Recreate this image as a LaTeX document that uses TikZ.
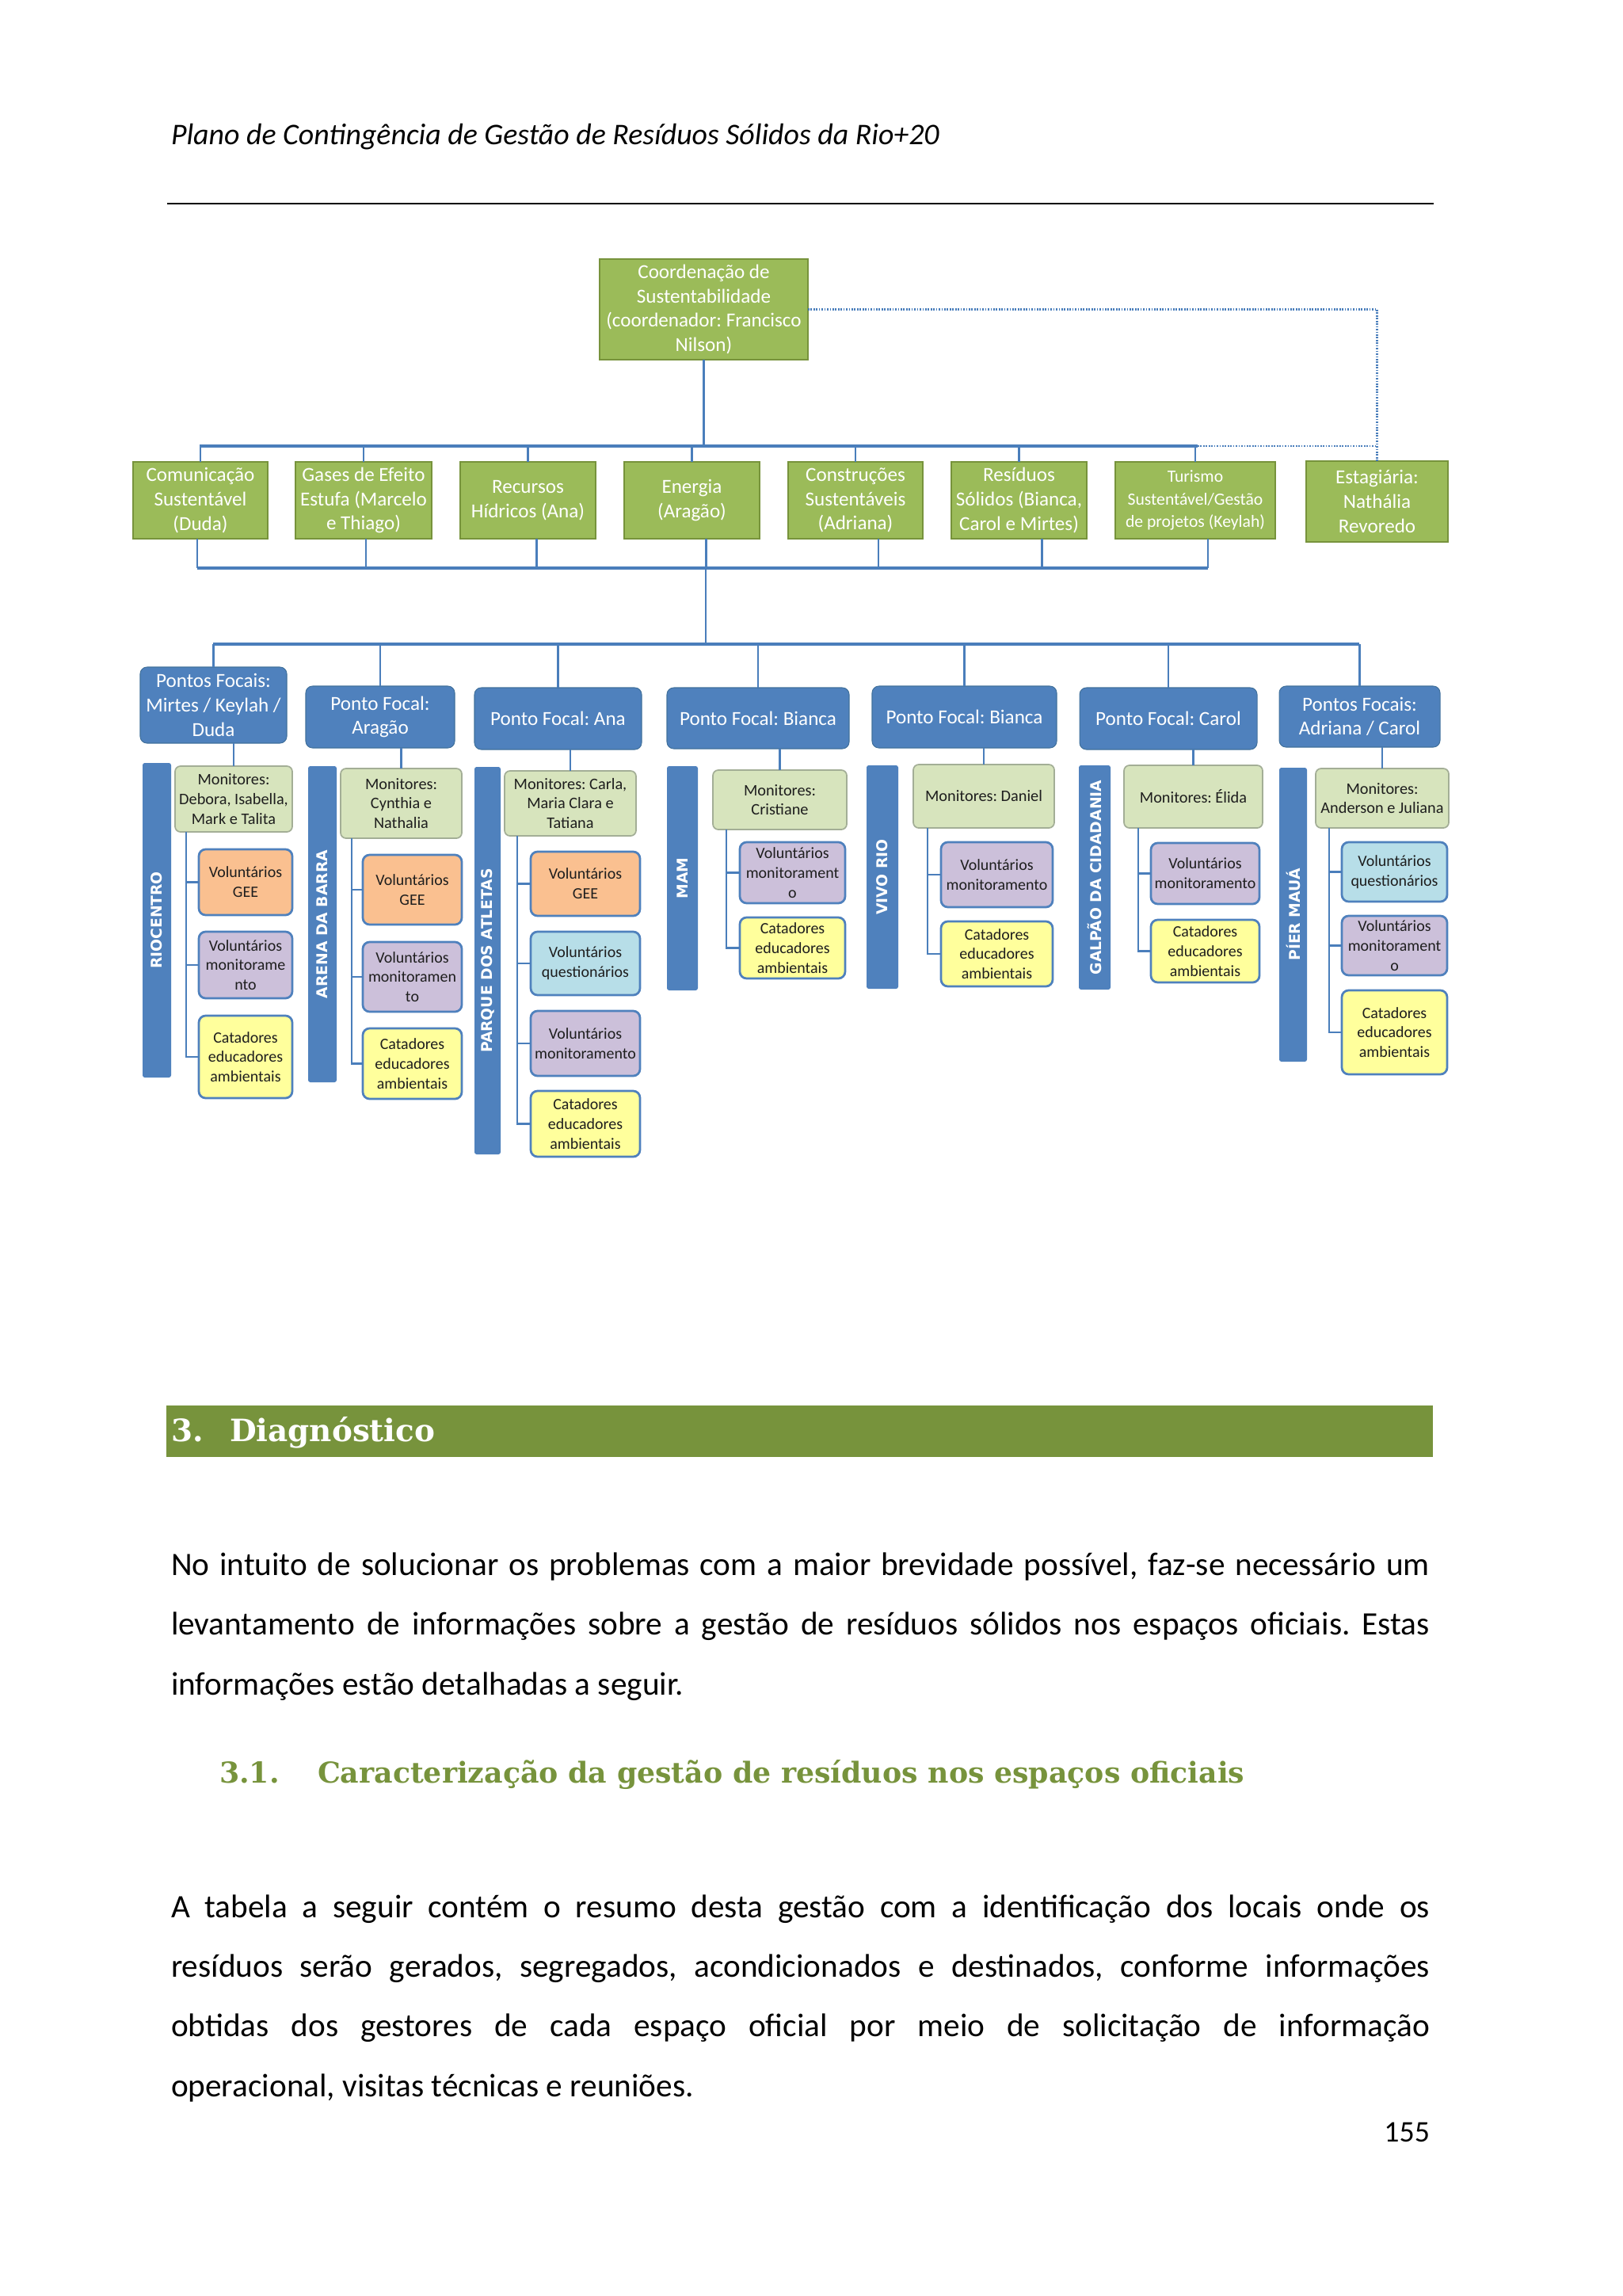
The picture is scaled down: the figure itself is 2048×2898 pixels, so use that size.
\documentclass[tikz,border=0pt]{standalone}
\usepackage{fontspec}
\newfontfamily\calib{Carlito}
\newfontfamily\barfont{DejaVu Sans}
\newfontfamily\headfont{DejaVu Serif}
\usetikzlibrary{calc}
\frenchspacing
\definecolor{ggreen}{HTML}{9BBB59}
\definecolor{gborder}{HTML}{77933C}
\definecolor{pblue}{HTML}{4F81BD}
\definecolor{pbluedark}{HTML}{41719C}
\definecolor{mgreen}{HTML}{D7E4BD}
\definecolor{mborder}{HTML}{A3AE96}
\definecolor{geefill}{HTML}{FAC090}
\definecolor{monfill}{HTML}{CCC0DA}
\definecolor{quefill}{HTML}{B7DEE8}
\definecolor{catfill}{HTML}{FFFF9C}
\definecolor{secgreen}{HTML}{77933C}
\definecolor{lineblue}{HTML}{4A7EBB}
\definecolor{darktext}{HTML}{1E1E1E}
\newcommand\mybox[7]{\node[#2, minimum width={(#5-#3)*0.29066pt}, minimum height={(#6-#4)*0.29066pt}] (#1) at ({(#3+#5)/2},{(#4+#6)/2}) {#7};}
\newcommand\mybar[6]{\node[barbox, rotate=90, minimum width={(#5-#3)*0.29066pt}, minimum height={(#4-#2)*0.29066pt}] (#1) at ({(#2+#4)/2},{(#3+#5)/2}) {#6};}
\begin{document}
\frenchspacing
\begin{tikzpicture}[x=0.29066pt,y=-0.29066pt,
  every node/.style={inner sep=0pt, outer sep=0pt, align=center},
  gbox/.style={draw=gborder, fill=ggreen, line width=0.6pt, text=white, font=\calib\fontsize{7.3}{8.9}\selectfont},
  pbox/.style={fill=pblue, draw=pbluedark, line width=0.3pt, rounded corners=2.5pt, text=white, font=\calib\fontsize{7.3}{8.9}\selectfont},
  barbox/.style={fill=pblue, rounded corners=0.8pt, text=white, font=\barfont\bfseries\fontsize{5.45}{6.5}\selectfont},
  mbox/.style={fill=mgreen, draw=mborder, line width=0.5pt, rounded corners=2pt, text=darktext, font=\calib\fontsize{5.9}{7.2}\selectfont},
  cbox/.style={draw=pblue, line width=0.8pt, rounded corners=2.5pt, text=darktext, font=\calib\fontsize{5.8}{7.2}\selectfont},
  gee/.style={cbox, fill=geefill},
  mon/.style={cbox, fill=monfill},
  que/.style={cbox, fill=quefill},
  cat/.style={cbox, fill=catfill},
  conn/.style={draw=lineblue, line width=0.8pt},
  bus/.style={draw=lineblue, line width=1.3pt},
  dotl/.style={draw=lineblue, line width=0.6pt, dash pattern=on 0.5pt off 0.5pt},
  body/.style={anchor=base west, font=\calib\frenchspacing\fontsize{12}{14}\selectfont},
  secbar/.style={fill=secgreen}
]
\path[use as bounding box, fill=white] (0,0) rectangle (2048,2898);

% header
\node[anchor=base west, font=\calib\itshape\fontsize{11}{13}\selectfont] (hdr) at (216,182) {Plano de Contingência de Gestão de Resíduos Sólidos da Rio+20};
\coordinate (rl) at (211,257); \coordinate (rr) at (1810,257);
\draw[line width=0.8pt] (rl) -- (rr);

% top level
\mybox{coord}{gbox}{757}{327}{1020}{454}{Coordenação de\\Sustentabilidade\\(coordenador: Francisco\\Nilson)}

% second row
\mybox{c1}{gbox}{168}{583}{338}{680}{Comunicação\\Sustentável\\(Duda)}
\mybox{c2}{gbox}{373}{583}{545}{680}{Gases de Efeito\\Estufa (Marcelo\\e Thiago)}
\mybox{c3}{gbox}{581}{583}{752}{680}{Recursos\\Hídricos (Ana)}
\mybox{c4}{gbox}{788}{583}{959}{680}{Energia\\(Aragão)}
\mybox{c5}{gbox}{995}{583}{1165}{680}{Construções\\Sustentáveis\\(Adriana)}
\mybox{c6}{gbox}{1201}{583}{1372}{680}{Resíduos\\Sólidos (Bianca,\\Carol e Mirtes)}
\mybox{c7}{gbox, font=\calib\fontsize{6.3}{8.2}\selectfont}{1408}{583}{1610}{680}{Turismo\\Sustentável/Gestão\\de projetos (Keylah)}
\mybox{est}{gbox}{1649}{582}{1828}{684}{Estagiária:\\Nathália\\Revoredo}

% focal points
\mybox{p1}{pbox}{177}{842}{362}{938}{Pontos Focais:\\Mirtes / Keylah /\\Duda}
\mybox{p2}{pbox}{386}{866}{574}{944}{Ponto Focal:\\Aragão}
\mybox{p3}{pbox}{599}{868}{810}{946}{Ponto Focal: Ana}
\mybox{p4}{pbox}{842}{868}{1072}{945}{Ponto Focal: Bianca}
\mybox{p5}{pbox}{1101}{866}{1334}{944}{Ponto Focal: Bianca}
\mybox{p6}{pbox}{1363}{868}{1587}{946}{Ponto Focal: Carol}
\mybox{p7}{pbox}{1615}{866}{1818}{943}{Pontos Focais:\\Adriana / Carol}

% venue bars
\mybar{b1}{180}{963}{216}{1360}{RIOCENTRO}
\mybar{b2}{389}{967}{425}{1366}{ARENA DA BARRA}
\mybar{b3}{599}{968}{632}{1457}{PARQUE DOS ATLETAS}
\mybar{b4}{842}{967}{881}{1250}{MAM}
\mybar{b5}{1094}{966}{1134}{1248}{VIVO RIO}
\mybar{b6}{1362}{966}{1402}{1249}{GALPÃO DA CIDADANIA}
\mybar{b7}{1615}{969}{1650}{1340}{PÍER MAUÁ}

% monitors
\mybox{m1}{mbox}{221}{967}{369}{1050}{Monitores:\\Debora, Isabella,\\Mark e Talita}
\mybox{m2}{mbox}{430}{970}{583}{1058}{Monitores:\\Cynthia e\\Nathalia}
\mybox{m3}{mbox}{637}{973}{803}{1055}{Monitores: Carla,\\Maria Clara e\\Tatiana}
\mybox{m4}{mbox}{900}{972}{1069}{1047}{Monitores:\\Cristiane}
\mybox{m5}{mbox}{1153}{965}{1331}{1045}{Monitores: Daniel}
\mybox{m6}{mbox}{1419}{966}{1594}{1045}{Monitores: Élida}
\mybox{m7}{mbox}{1661}{970}{1829}{1045}{Monitores:\\Anderson e Juliana}

% column 1
\mybox{g1}{gee}{251}{1072}{369}{1155}{Voluntários\\GEE}
\mybox{mo1}{mon}{251}{1176}{369}{1260}{Voluntários\\monitorame\\nto}
\mybox{ca1}{cat}{251}{1282}{369}{1386}{Catadores\\educadores\\ambientais}
% column 2
\mybox{g2}{gee}{458}{1079}{583}{1167}{Voluntários\\GEE}
\mybox{mo2}{mon}{458}{1189}{583}{1277}{Voluntários\\monitoramen\\to}
\mybox{ca2}{cat}{458}{1298}{583}{1387}{Catadores\\educadores\\ambientais}
% column 3
\mybox{g3}{gee}{670}{1075}{808}{1156}{Voluntários\\GEE}
\mybox{q3}{que}{670}{1176}{808}{1256}{Voluntários\\questionários}
\mybox{mo3}{mon}{670}{1276}{808}{1358}{Voluntários\\monitoramento}
\mybox{ca3}{cat}{670}{1377}{808}{1460}{Catadores\\educadores\\ambientais}
% column 4
\mybox{mo4}{mon}{934}{1063}{1067}{1140}{Voluntários\\monitorament\\o}
\mybox{ca4}{cat}{934}{1158}{1067}{1235}{Catadores\\educadores\\ambientais}
% column 5
\mybox{mo5}{mon}{1188}{1063}{1329}{1145}{Voluntários\\monitoramento}
\mybox{ca5}{cat}{1188}{1163}{1329}{1245}{Catadores\\educadores\\ambientais}
% column 6
\mybox{mo6}{mon}{1453}{1064}{1590}{1141}{Voluntários\\monitoramento}
\mybox{ca6}{cat}{1453}{1161}{1590}{1240}{Catadores\\educadores\\ambientais}
% column 7
\mybox{q7}{que}{1694}{1063}{1827}{1138}{Voluntários\\questionários}
\mybox{mo7}{mon}{1694}{1156}{1827}{1231}{Voluntários\\monitorament\\o}
\mybox{ca7}{cat}{1694}{1250}{1827}{1356}{Catadores\\educadores\\ambientais}

% connectors: top bus
\coordinate (busAl) at (252,563); \coordinate (busAr) at (1512,563);
\draw[conn] (coord.south) -- (coord.south |- busAl);
\draw[bus] (busAl) -- (busAr);
\foreach \n in {c1,c2,c3,c4,c5,c6,c7} \draw[conn] (\n.north) -- (\n.north |- busAl);
\draw[dotl] (coord.east) -| (est.north);
\draw[dotl] (busAr) -- (busAr -| est.north);

% second bus
\coordinate (busBl) at (249,717); \coordinate (busBr) at (1525,717);
\draw[bus] (busBl) -- (busBr);
\foreach \n/\d in {c1/-4,c2/3,c3/11,c4/18,c5/29,c6/29,c7/16} \draw[conn] (\n.south) ++(\d,0) -- ++(0,37);
\coordinate (busBm) at (891,717); \coordinate (busCm) at (891,813);
\draw[conn] (busBm) -- (busCm);

% third bus
\coordinate (busCl) at (269,813); \coordinate (busCr) at (1716,813);
\draw[bus] (busCl) -- (busCr);
\foreach \n in {p1,p2,p3,p4,p5,p6,p7} \draw[conn] (\n.north) -- (\n.north |- busCl);
\foreach \i in {1,...,7} \draw[conn] (m\i.north) -- (m\i.north |- p\i.south);

% branches
\coordinate (k1) at (235,1050);
\foreach \n in {g1,mo1,ca1} \draw[conn] (k1) |- (\n.west);
\coordinate (k2) at (444,1058);
\foreach \n in {g2,mo2,ca2} \draw[conn] (k2) |- (\n.west);
\coordinate (k3) at (653,1055);
\foreach \n in {g3,q3,mo3,ca3} \draw[conn] (k3) |- (\n.west);
\coordinate (k4) at (917,1047);
\foreach \n in {mo4,ca4} \draw[conn] (k4) |- (\n.west);
\coordinate (k5) at (1171,1045);
\foreach \n in {mo5,ca5} \draw[conn] (k5) |- (\n.west);
\coordinate (k6) at (1437,1045);
\foreach \n in {mo6,ca6} \draw[conn] (k6) |- (\n.west);
\coordinate (k7) at (1678,1045);
\foreach \n in {q7,mo7,ca7} \draw[conn] (k7) |- (\n.west);

% section 3
\mybox{sec}{secbar}{210}{1774}{1809}{1839}{}
\node[anchor=base west, text=white, font=\headfont\bfseries\fontsize{11.3}{14}\selectfont] (secn) at (216,1819) {3.};
\node[anchor=base west, text=white, font=\headfont\bfseries\fontsize{11.3}{14}\selectfont] (sect) at (290,1819) {Diagnóstico};

\node[body] (t1) at (216,1988) {\makebox[461.9pt][s]{No intuito de solucionar os problemas com a maior brevidade possível, faz-se necessário um}};
\node[body] (t2) at (216,2063) {\makebox[461.9pt][s]{levantamento de informações sobre a gestão de resíduos sólidos nos espaços oficiais. Estas}};
\node[body] (t3) at (216,2139) {informações estão detalhadas a seguir.};

\node[anchor=base west, text=secgreen, font=\headfont\bfseries\fontsize{10.55}{13}\selectfont] (subn) at (277,2250) {3.1.};
\node[anchor=base west, text=secgreen, font=\headfont\bfseries\fontsize{10.55}{13}\selectfont] (subt) at (401,2250) {Caracterização da gestão de resíduos nos espaços oficiais};

\node[body] (u1) at (216,2420) {\makebox[461.9pt][s]{A tabela a seguir contém o resumo desta gestão com a identificação dos locais onde os}};
\node[body] (u2) at (216,2495) {\makebox[461.9pt][s]{resíduos serão gerados, segregados, acondicionados e destinados, conforme informações}};
\node[body] (u3) at (216,2570) {\makebox[461.9pt][s]{obtidas dos gestores de cada espaço oficial por meio de solicitação de informação}};
\node[body] (u4) at (216,2646) {operacional, visitas técnicas e reuniões.};

\node[anchor=base east, font=\calib\fontsize{11}{13}\selectfont] (pg) at (1805,2703) {155};
\end{tikzpicture}
\end{document}
